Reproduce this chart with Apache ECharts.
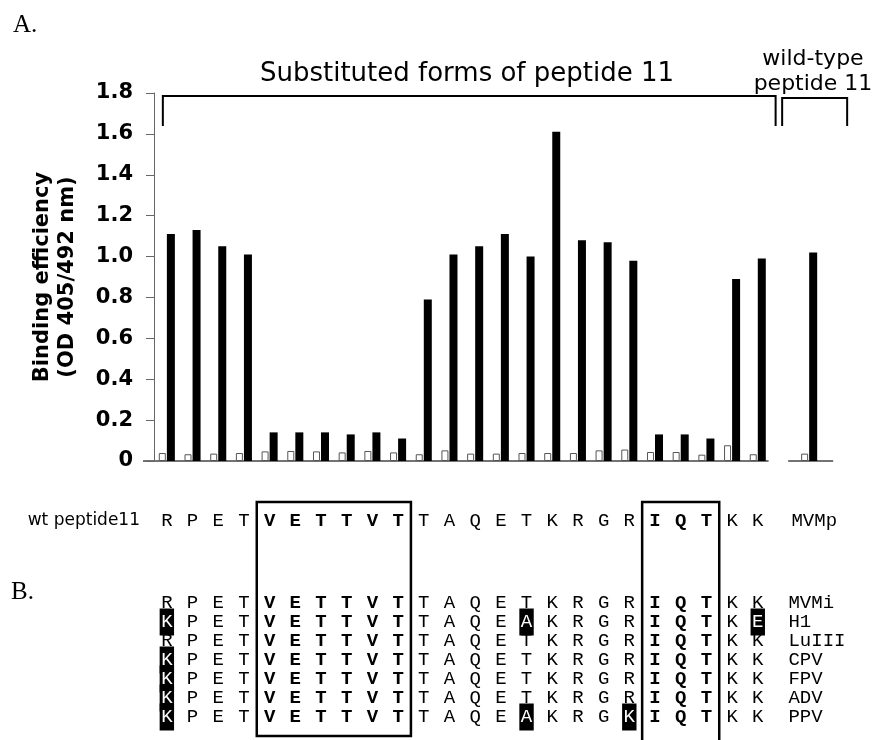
<!DOCTYPE html>
<html lang="en">
<head>
    <meta charset="UTF-8">
    <script src="https://cdn.jsdelivr.net/npm/echarts@6/dist/echarts.min.js"></script>
    <title>Peptide 11 binding</title>
    <style>
        html, body { margin: 0; padding: 0; background: #fff; }
        #main { width: 880px; height: 740px; }
    </style>
</head>
<body>
    <div id="main"></div>
    <script>
        // wild-type peptide 11 (MVMp), one bar pair per substituted residue
        var wtSeq = ['R', 'P', 'E', 'T', 'V', 'E', 'T', 'T', 'V', 'T', 'T', 'A', 'Q', 'E', 'T', 'K', 'R', 'G', 'R', 'I', 'Q', 'T', 'K', 'K'];
        // categories: 24 substituted forms, an empty slot, then wild-type
        var categories = wtSeq.map(function (r, i) { return r + (i + 1); }).concat(['', 'wt']);
        // open bars (control) and filled bars (binding), OD 405/492 nm
        var controlVals = [0.039, 0.033, 0.036, 0.039, 0.047, 0.049, 0.047, 0.042, 0.049, 0.042, 0.033, 0.052,
            0.036, 0.036, 0.039, 0.039, 0.039, 0.052, 0.056, 0.044, 0.044, 0.031, 0.077, 0.033, null, 0.036];
        var bindingVals = [1.11, 1.13, 1.05, 1.01, 0.14, 0.14, 0.14, 0.13, 0.14, 0.11, 0.79, 1.01,
            1.05, 1.11, 1.00, 1.61, 1.08, 1.07, 0.98, 0.13, 0.13, 0.11, 0.89, 0.99, null, 1.02];
        // boxed (bold) stretches of the sequence, as residue indexes
        var boxedRanges = [[4, 9], [19, 21]];
        // panel B alignment
        var alignNames = ['MVMi', 'H1', 'LuIII', 'CPV', 'FPV', 'ADV', 'PPV'];
        var alignSeqs = [
            'RPETVETTVTTAQETKRGRIQTKK',
            'KPETVETTVTTAQEAKRGRIQTKE',
            'RPETVETTVTTAQETKRGRIQTKK',
            'KPETVETTVTTAQETKRGRIQTKK',
            'KPETVETTVTTAQETKRGRIQTKK',
            'KPETVETTVTTAQETKRGRIQTKK',
            'KPETVETTVTTAQEAKRGKIQTKK'
        ];

        var monoFont = 'Liberation Mono';
        var sansFont = 'DejaVu Sans';
        var nameSlot = 24; // empty category, used to hang the virus names

        function isBold(i) {
            return boxedRanges.some(function (r) { return i >= r[0] && i <= r[1]; });
        }

        // one letter -> one label-only scatter point
        function letterPoint(ch, i, row, hi) {
            var lab = {
                formatter: ch,
                fontFamily: monoFont,
                fontSize: 19,
                fontWeight: isBold(i) ? 'bold' : 'normal',
                color: '#000'
            };
            if (hi) {
                lab.color = '#fff';
                lab.backgroundColor = '#000';
                lab.padding = [4, 1.5, 4, 1.5];
            }
            return { value: [i, row], label: lab };
        }

        var wtLetters = wtSeq.map(function (r, i) { return letterPoint(r, i, 0, false); });
        var alignLetters = [];
        alignSeqs.forEach(function (s, row) {
            s.split('').forEach(function (ch, i) {
                alignLetters.push(letterPoint(ch, i, row, ch !== wtSeq[i]));
            });
        });

        var hiddenX = function (gi) {
            return { type: 'category', gridIndex: gi, data: categories, show: false, boundaryGap: true };
        };

        var chart = echarts.init(document.getElementById('main'));
        var option = {
            animation: false,
            backgroundColor: '#fff',
            grid: [
                { left: 154, width: 668, top: 93, height: 368 },
                { left: 154, width: 668, top: 511, height: 20 },
                { left: 154, width: 668, top: 593.5, height: 133 }
            ],
            xAxis: [hiddenX(0), hiddenX(1), hiddenX(2)],
            yAxis: [
                {
                    type: 'value',
                    gridIndex: 0,
                    min: 0,
                    max: 1.8,
                    interval: 0.2,
                    name: 'Binding efficiency\n(OD 405/492 nm)',
                    nameLocation: 'middle',
                    nameGap: 74,
                    nameTextStyle: {
                        fontFamily: sansFont, fontWeight: 'bold', fontSize: 21,
                        lineHeight: 25, color: '#000'
                    },
                    axisLine: { show: true, lineStyle: { color: '#666', width: 1 } },
                    axisTick: { show: true, length: 8, lineStyle: { color: '#666' } },
                    splitLine: { show: false },
                    axisLabel: {
                        margin: 21,
                        fontFamily: sansFont, fontWeight: 'bold', fontSize: 21, color: '#000',
                        formatter: function (v) { return v === 0 ? '0' : v.toFixed(1); }
                    }
                },
                {
                    type: 'category',
                    gridIndex: 1,
                    data: ['wt'],
                    axisLine: { show: false },
                    axisTick: { show: false },
                    axisLabel: {
                        margin: 14,
                        formatter: 'wt peptide11',
                        fontFamily: sansFont, fontSize: 17, color: '#000'
                    }
                },
                {
                    type: 'category',
                    gridIndex: 2,
                    data: alignNames,
                    inverse: true,
                    show: false
                }
            ],
            series: [
                {
                    name: 'control',
                    type: 'bar',
                    xAxisIndex: 0, yAxisIndex: 0,
                    data: controlVals,
                    barWidth: 7,
                    barGap: '15%',
                    itemStyle: { color: '#fff', borderColor: '#555', borderWidth: 1 }
                },
                {
                    name: 'binding',
                    type: 'bar',
                    xAxisIndex: 0, yAxisIndex: 0,
                    data: bindingVals,
                    barWidth: 8,
                    itemStyle: { color: '#000' }
                },
                {
                    name: 'wt letters',
                    type: 'scatter',
                    xAxisIndex: 1, yAxisIndex: 1,
                    symbolSize: 0,
                    itemStyle: { opacity: 1 },
                    label: { show: true, position: 'inside' },
                    data: wtLetters
                },
                {
                    name: 'wt name',
                    type: 'scatter',
                    xAxisIndex: 1, yAxisIndex: 1,
                    symbolSize: 0,
                    itemStyle: { opacity: 1 },
                    label: {
                        show: true, position: 'right', distance: 8,
                        formatter: 'MVMp', fontFamily: monoFont, fontSize: 19, color: '#000'
                    },
                    data: [[nameSlot, 0]]
                },
                {
                    name: 'alignment',
                    type: 'scatter',
                    xAxisIndex: 2, yAxisIndex: 2,
                    symbolSize: 0,
                    itemStyle: { opacity: 1 },
                    label: { show: true, position: 'inside' },
                    data: alignLetters
                },
                {
                    name: 'virus names',
                    type: 'scatter',
                    xAxisIndex: 2, yAxisIndex: 2,
                    symbolSize: 0,
                    itemStyle: { opacity: 1 },
                    label: {
                        show: true, position: 'right', distance: 5,
                        fontFamily: monoFont, fontSize: 19, color: '#000',
                        formatter: function (p) { return alignNames[p.value[1]]; }
                    },
                    data: alignNames.map(function (n, row) { return [nameSlot, row]; })
                }
            ]
        };
        chart.setOption(option);

        // annotation layer (baseline, brackets, boxes, panel text) placed from the axis scale
        var cw = 668 / categories.length;
        function cx(i) { return chart.convertToPixel({ xAxisIndex: 0 }, categories[i]); }
        var y0 = chart.convertToPixel({ yAxisIndex: 0 }, 0);
        var lineStyle = { stroke: '#000', lineWidth: 2, fill: null };
        var graphics = [
            { type: 'line', shape: { x1: cx(0) - cw / 2 - 11, y1: y0, x2: cx(23) + cw / 2 - 2, y2: y0 },
              style: { stroke: '#444', lineWidth: 1.5 } },
            { type: 'line', shape: { x1: cx(25) - 21, y1: y0, x2: cx(25) + 24, y2: y0 },
              style: { stroke: '#444', lineWidth: 1.5 } },
            { type: 'polyline', shape: { points: [[cx(0) - 4, 126], [cx(0) - 4, 96], [cx(23) + cw / 2 + 5, 96], [cx(23) + cw / 2 + 5, 126]] },
              style: lineStyle },
            { type: 'polyline', shape: { points: [[cx(25) - 27, 126], [cx(25) - 27, 98], [cx(25) + 38, 98], [cx(25) + 38, 126]] },
              style: lineStyle },
            { type: 'text', x: 467, y: 74, style: { text: 'Substituted forms of peptide 11', font: '26px "DejaVu Sans"', fill: '#000', align: 'center', verticalAlign: 'middle' } },
            { type: 'text', x: 813, y: 59, style: { text: 'wild-type', font: '22px "DejaVu Sans"', fill: '#000', align: 'center', verticalAlign: 'middle' } },
            { type: 'text', x: 813, y: 84, style: { text: 'peptide 11', font: '22px "DejaVu Sans"', fill: '#000', align: 'center', verticalAlign: 'middle' } },
            { type: 'text', x: 13, y: 13, style: { text: 'A.', font: '25px "Liberation Serif"', fill: '#000' } },
            { type: 'text', x: 11, y: 580, style: { text: 'B.', font: '25px "Liberation Serif"', fill: '#000' } }
        ];
        // box 1 closed at the bottom, box 2 runs off the page
        var b1l = cx(boxedRanges[0][0]) - cw / 2, b1r = cx(boxedRanges[0][1]) + cw / 2;
        var b2l = cx(boxedRanges[1][0]) - cw / 2, b2r = cx(boxedRanges[1][1]) + cw / 2;
        graphics.push({ type: 'rect', shape: { x: b1l, y: 502, width: b1r - b1l, height: 234 },
            style: { stroke: '#000', lineWidth: 2.5, fill: null } });
        graphics.push({ type: 'polyline', shape: { points: [[b2l, 745], [b2l, 502], [b2r, 502], [b2r, 745]] },
            style: { stroke: '#000', lineWidth: 2.5, fill: null } });
        chart.setOption({ graphic: graphics });
    </script>
</body>
</html>
